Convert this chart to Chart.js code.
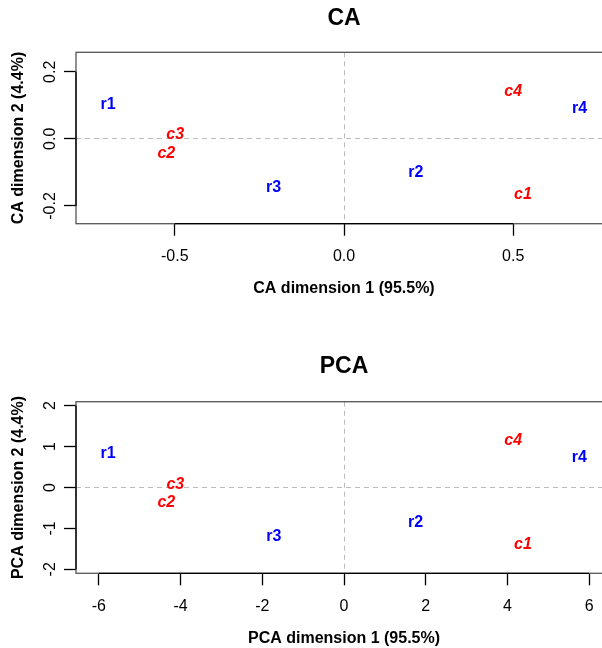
<!DOCTYPE html>
<html>
<head>
<meta charset="utf-8">
<script src="https://cdn.jsdelivr.net/npm/chart.js@4"></script>
<style>
  html, body { margin: 0; padding: 0; background: #fff; overflow: hidden; width: 602px; height: 648px; }
  .wrap { position: absolute; left: 0; width: 612px; }
</style>
</head>
<body>
<div class="wrap" style="top:0;height:300px"><canvas id="caChart" width="612" height="300"></canvas></div>
<div class="wrap" style="top:300px;height:348px"><canvas id="pcaChart" width="612" height="348"></canvas></div>
<script>
// Labels
const rowNames = ['r1', 'r2', 'r3', 'r4'];
const colNames = ['c1', 'c2', 'c3', 'c4'];

// CA coordinates
const caRowX = [-0.697, 0.212, -0.208, 0.696];
const caRowY = [0.105, -0.096, -0.141, 0.093];
const caColX = [0.529, -0.525, -0.499, 0.500];
const caColY = [-0.161, -0.039, 0.016, 0.146];

// PCA coordinates
const pcaRowX = [-5.775, 1.75, -1.72, 5.76];
const pcaRowY = [0.865, -0.82, -1.16, 0.767];
const pcaColX = [4.38, -4.35, -4.13, 4.14];
const pcaColY = [-1.36, -0.336, 0.113, 1.18];

// Ticks
const caXTicks = [-0.5, 0, 0.5];
const caXTickLabels = ['-0.5', '0.0', '0.5'];
const caYTicks = [-0.2, 0, 0.2];
const caYTickLabels = ['-0.2', '0.0', '0.2'];
const pcaXTicks = [-6, -4, -2, 0, 2, 4, 6];
const pcaXTickLabels = ['-6', '-4', '-2', '0', '2', '4', '6'];
const pcaYTicks = [-2, -1, 0, 1, 2];
const pcaYTickLabels = ['-2', '-1', '0', '1', '2'];

const FONT = '"Liberation Sans", Arial, Helvetica, sans-serif';
Chart.defaults.font.family = FONT;
Chart.defaults.color = '#000';

function toPoints(xs, ys) {
    return xs.map((x, i) => ({ x: x, y: ys[i] }));
}

// draws the row / column names at the data positions
const textLabels = {
    id: 'textLabels',
    afterDatasetsDraw(chart) {
        const ctx = chart.ctx;
        chart.data.datasets.forEach((ds, i) => {
            const meta = chart.getDatasetMeta(i);
            ctx.save();
            ctx.font = ds.nameFont;
            ctx.fillStyle = ds.nameColor;
            ctx.textAlign = 'center';
            ctx.textBaseline = 'alphabetic';
            meta.data.forEach((pt, j) => {
                ctx.fillText(ds.names[j], pt.x, pt.y + 5.7);
            });
            ctx.restore();
        });
    }
};

// box around the plot + axis lines between first and last tick
const frame = {
    id: 'frame',
    afterDraw(chart) {
        const { ctx, chartArea: a, scales } = chart;
        const x = scales.x, y = scales.y;
        ctx.save();
        ctx.lineWidth = 1.3;
        ctx.strokeStyle = '#555';
        ctx.strokeRect(a.left, a.top, a.right - a.left, a.bottom - a.top);
        ctx.strokeStyle = '#000';
        ctx.beginPath();
        ctx.moveTo(x.getPixelForValue(x.ticks[0].value), a.bottom);
        ctx.lineTo(x.getPixelForValue(x.ticks[x.ticks.length - 1].value), a.bottom);
        ctx.moveTo(a.left, y.getPixelForValue(y.ticks[0].value));
        ctx.lineTo(a.left, y.getPixelForValue(y.ticks[y.ticks.length - 1].value));
        ctx.stroke();
        ctx.restore();
    }
};

function makeChart(id, cfg) {
    const canvas = document.getElementById(id);
    const H = canvas.height;
    const zeroGrid = {
        display: true,
        drawOnChartArea: true,
        drawTicks: true,
        tickLength: 12,
        tickWidth: 1.3,
        tickColor: '#000',
        lineWidth: 1,
        color: (c) => (c.tick && c.tick.value === 0) ? '#bbb' : 'rgba(0,0,0,0)'
    };
    return new Chart(canvas.getContext('2d'), {
        type: 'scatter',
        data: {
            datasets: [
                {
                    data: toPoints(cfg.rowX, cfg.rowY),
                    names: rowNames,
                    nameColor: '#0000ff',
                    nameFont: 'bold 16px ' + FONT,
                    pointRadius: 0
                },
                {
                    data: toPoints(cfg.colX, cfg.colY),
                    names: colNames,
                    nameColor: '#ff0000',
                    nameFont: 'italic bold 16px ' + FONT,
                    pointRadius: 0
                }
            ]
        },
        options: {
            responsive: false,
            animation: false,
            layout: { padding: 0 },
            plugins: {
                legend: { display: false },
                tooltip: { enabled: false },
                title: {
                    display: true,
                    fullSize: false,
                    text: cfg.title,
                    color: '#000',
                    font: { size: 23, weight: 'bold' },
                    padding: { top: cfg.titleTop, bottom: cfg.titleBottom }
                }
            },
            scales: {
                x: {
                    type: 'linear',
                    min: cfg.xMin,
                    max: cfg.xMax,
                    grid: zeroGrid,
                    border: { display: false, dash: [5, 4] },
                    afterBuildTicks: (s) => { s.ticks = cfg.xTicks.map(v => ({ value: v })); },
                    afterFit: (s) => { s.height = H - cfg.areaBottom; },
                    ticks: {
                        font: { size: 16 },
                        color: '#000',
                        padding: cfg.xTickPad,
                        maxRotation: 0,
                        callback: (v, i) => cfg.xTickLabels[i]
                    },
                    title: {
                        display: true,
                        text: cfg.xTitle,
                        color: '#000',
                        font: { size: 16, weight: 'bold' },
                        padding: { top: 0, bottom: cfg.xTitleBottom }
                    }
                },
                y: {
                    type: 'linear',
                    min: cfg.yMin,
                    max: cfg.yMax,
                    grid: zeroGrid,
                    border: { display: false, dash: [5, 4] },
                    afterBuildTicks: (s) => { s.ticks = cfg.yTicks.map(v => ({ value: v })); },
                    afterFit: (s) => { s.width = 76; },
                    ticks: {
                        font: { size: 16 },
                        color: '#000',
                        padding: cfg.yTickPad,
                        minRotation: 90,
                        maxRotation: 90,
                        crossAlign: 'center',
                        callback: (v, i) => cfg.yTickLabels[i]
                    },
                    title: {
                        display: true,
                        text: cfg.yTitle,
                        color: '#000',
                        font: { size: 16, weight: 'bold' },
                        padding: { top: 9.4, bottom: 0 }
                    }
                }
            }
        },
        plugins: [frame, textLabels]
    });
}

makeChart('caChart', {
    title: 'CA',
    titleTop: 5.2, titleBottom: 19.5,
    areaBottom: 223.7,
    rowX: caRowX, rowY: caRowY, colX: caColX, colY: caColY,
    xMin: -0.792, xMax: 0.792, yMin: -0.253, yMax: 0.258,
    xTicks: caXTicks, xTickLabels: caXTickLabels,
    yTicks: caYTicks, yTickLabels: caYTickLabels,
    xTickPad: 11.4, yTickPad: 0,
    xTitle: 'CA dimension 1 (95.5%)', xTitleBottom: 2.1,
    yTitle: 'CA dimension 2 (4.4%)'
});

makeChart('pcaChart', {
    title: 'PCA',
    titleTop: 52.9, titleBottom: 21.2,
    areaBottom: 273.3,
    rowX: pcaRowX, rowY: pcaRowY, colX: pcaColX, colY: pcaColY,
    xMin: -6.56, xMax: 6.56, yMin: -2.097, yMax: 2.097,
    xTicks: pcaXTicks, xTickLabels: pcaXTickLabels,
    yTicks: pcaYTicks, yTickLabels: pcaYTickLabels,
    xTickPad: 11.8, yTickPad: 6.4,
    xTitle: 'PCA dimension 1 (95.5%)', xTitleBottom: 0.1,
    yTitle: 'PCA dimension 2 (4.4%)'
});
</script>
</body>
</html>
